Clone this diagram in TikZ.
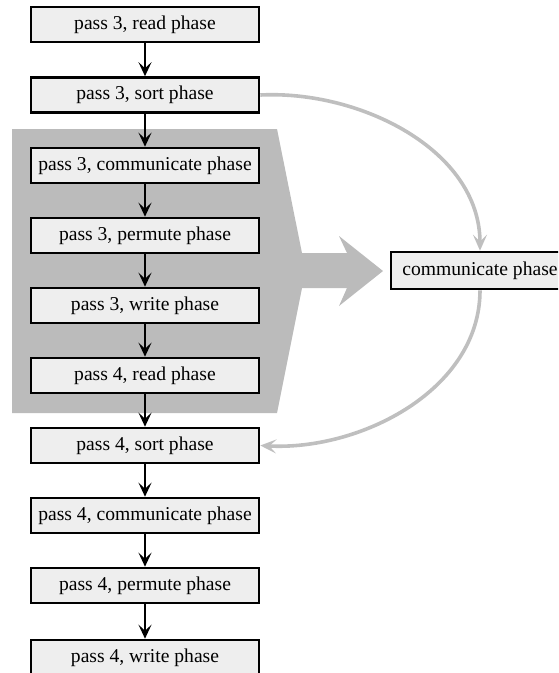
\documentclass[tikz,border=0pt]{standalone}
\usepackage{fontspec}
\setmainfont{Liberation Serif}
\usetikzlibrary{arrows.meta}
\definecolor{boxfill}{HTML}{EEEEEE}
\definecolor{bandgray}{HTML}{BBBBBB}
\definecolor{curvegray}{HTML}{BFBFBF}
\begin{document}
\begin{tikzpicture}[x=1pt,y=-1pt,
  phasebox/.style={draw=black,fill=boxfill,line width=2.6pt,minimum width=228pt,minimum height=35pt,inner sep=0pt,font=\fontsize{19.6}{23}\selectfont},
  flow/.style={line width=2.4pt,-{Stealth[length=14pt,width=13pt,inset=6pt]}},
  gflow/.style={draw=curvegray,line width=3.6pt,-{Stealth[length=16pt,width=14pt,inset=7pt]}}]
\useasboundingbox (0,0) rectangle (558,673);
\begin{scope}
\clip (0,0) rectangle (558,673);
% gray band with arrow
\fill[bandgray] (12,129) -- (277,129) -- (302,253) -- (347,253) -- (339,236) -- (383,271) -- (339,306) -- (347,288) -- (302,288) -- (277,413) -- (12,413) -- cycle;
\node[phasebox] (a1) at (145,24.5) {pass 3, read phase};
\node[phasebox] (a2) at (145,95) {pass 3, sort phase};
\node[phasebox] (a3) at (145,165.5) {pass 3, communicate phase};
\node[phasebox] (a4) at (145,235.5) {pass 3, permute phase};
\node[phasebox] (a5) at (145,305.5) {pass 3, write phase};
\node[phasebox] (a6) at (145,375.5) {pass 4, read phase};
\node[phasebox] (a7) at (145,445.5) {pass 4, sort phase};
\node[phasebox] (a8) at (145,515.5) {pass 4, communicate phase};
\node[phasebox] (a9) at (145,585.5) {pass 4, permute phase};
\node[phasebox] (a10) at (145,657.5) {pass 4, write phase};
\node[phasebox,minimum width=178pt,minimum height=37pt] (cp) at (480,270.5) {communicate phase};
\foreach \u/\v in {a1/a2,a2/a3,a3/a4,a4/a5,a5/a6,a6/a7,a7/a8,a8/a9,a9/a10}
  \draw[flow] (\u) -- (\v);
\draw[gflow] (a2.east) .. controls (360,90) and (480,150) .. (cp.north);
\draw[gflow] (cp.south) .. controls (480,390) and (360,451) .. (a7.east);
\end{scope}
\end{tikzpicture}
\end{document}
